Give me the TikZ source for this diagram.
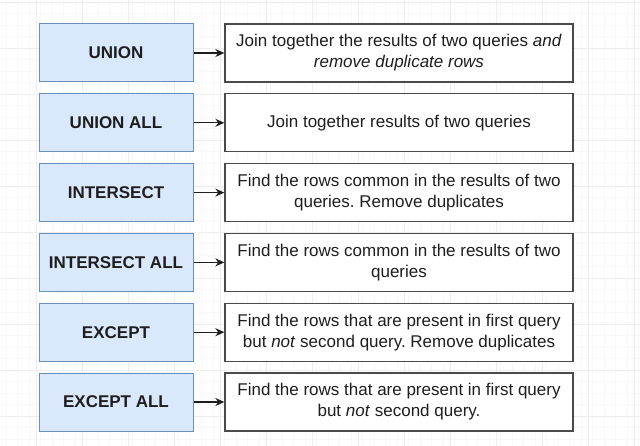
\documentclass[tikz,border=0pt]{standalone}
\usepackage{fontspec}
\setmainfont{Liberation Sans}
\usetikzlibrary{arrows.meta}
\definecolor{opfill}{HTML}{DAE8FC}
\definecolor{opline}{HTML}{6C8EBF}
\definecolor{txt}{HTML}{1E1E1E}
\definecolor{descline}{HTML}{4A4A4A}
\definecolor{gridmajor}{HTML}{EDEDED}
\definecolor{gridminor}{HTML}{F8F8F8}
\tikzset{
  opbox/.style={draw=opline, fill=opfill, line width=1pt, minimum width=154pt, minimum height=58pt, inner sep=0pt, text=txt, font=\fontsize{17}{21}\selectfont\bfseries},
  descbox/.style={draw=descline, fill=white, line width=1.3pt, minimum width=348pt, minimum height=58pt, inner sep=0pt, align=center, text=txt, font=\fontsize{17}{21}\selectfont},
  link/.style={draw=txt, line width=1.3pt, -{Stealth[length=9pt,width=8pt]}}
}
\begin{document}
\frenchspacing
\begin{tikzpicture}[x=1pt,y=-1pt]
\useasboundingbox (0,0) rectangle (640,446);
\fill[white] (0,0) rectangle (640,446);
% faint grid
\foreach \i in {0,...,56} {\draw[gridminor, line width=0.5pt] ({\i*11.5-5.5},0) -- ({\i*11.5-5.5},446);}
\foreach \i in {0,...,39} {\draw[gridminor, line width=0.5pt] (0,{\i*11.5+2}) -- (640,{\i*11.5+2});}
\foreach \i in {0,...,14} {\draw[gridmajor, line width=0.6pt] ({\i*46-10},0) -- ({\i*46-10},446);}
\foreach \i in {0,...,9} {\draw[gridmajor, line width=0.6pt] (0,{\i*46+2}) -- (640,{\i*46+2});}

\node[opbox] (o1) at (116,53) {UNION};
\node[opbox] (o2) at (116,122.8) {UNION ALL};
\node[opbox] (o3) at (116,192.6) {INTERSECT};
\node[opbox] (o4) at (116,262.4) {INTERSECT ALL};
\node[opbox] (o5) at (116,332.2) {EXCEPT};
\node[opbox] (o6) at (116,402) {EXCEPT ALL};

\node[descbox] (d1) at (399,53) {Join together the results of two queries \textit{and}\\ \textit{remove duplicate rows}};
\node[descbox] (d2) at (399,122.8) {Join together results of two queries};
\node[descbox] (d3) at (399,192.6) {Find the rows common in the results of two\\ queries. Remove duplicates};
\node[descbox] (d4) at (399,262.4) {Find the rows common in the results of two\\ queries};
\node[descbox] (d5) at (399,332.2) {Find the rows that are present in first query\\ but \textit{not} second query. Remove duplicates};
\node[descbox] (d6) at (399,402) {Find the rows that are present in first query\\ but \textit{not} second query.};

\foreach \k in {1,...,6} {\draw[link] (o\k) -- (d\k);}
\end{tikzpicture}
\end{document}
